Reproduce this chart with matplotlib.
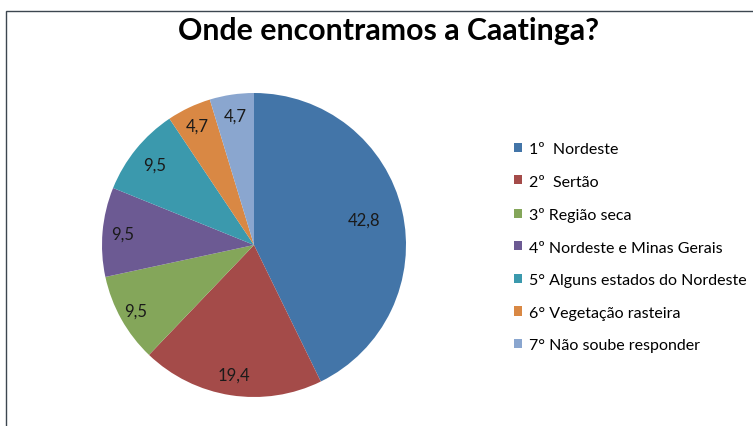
import matplotlib
matplotlib.use("Agg")
import matplotlib.pyplot as plt
from matplotlib.patches import Rectangle
import numpy as np

title = "Onde encontramos a Caatinga?"
categories = ["1º  Nordeste", "2º  Sertão", "3º Região seca", "4º Nordeste e Minas Gerais",
              "5° Alguns estados do Nordeste", "6° Vegetação rasteira", "7° Não soube responder"]
values = [42.8, 19.4, 9.5, 9.5, 9.5, 4.7, 4.7]
value_labels = ["42,8", "19,4", "9,5", "9,5", "9,5", "4,7", "4,7"]
colors = ["#4375A8", "#A44B49", "#84A65A", "#6C5A93", "#3B99AD", "#D98844", "#8AA6CF"]
label_radius = [0.74, 0.86, 0.89, 0.87, 0.84, 0.87, 0.86]

plt.rcParams['font.family'] = ['Lato', 'DejaVu Sans']

W, H = 753, 427
fig = plt.figure(figsize=(W / 100, H / 100), dpi=100)

# frame
fig.patches.append(Rectangle((6 / W, -0.05), 1.2, 1 - 12 / H + 0.05, transform=fig.transFigure,
                             fill=False, edgecolor="#3c4650", linewidth=1.0))

fig.text(388 / W, 1 - 31 / H, title, ha="center", va="center", fontsize=21.8, fontweight="bold")

cx, cy, r = 254, 246, 152
ax = fig.add_axes([(cx - r) / W, (H - cy - r) / H, 2 * r / W, 2 * r / H])
wedges, _ = ax.pie(values, colors=colors, startangle=90, counterclock=False, radius=1,
                   wedgeprops=dict(linewidth=0))
ax.set_xlim(-1, 1)
ax.set_ylim(-1, 1)
ax.axis("off")

for w, lab, lr in zip(wedges, value_labels, label_radius):
    ang = np.deg2rad((w.theta1 + w.theta2) / 2)
    ax.text(lr * np.cos(ang), lr * np.sin(ang), lab, ha="center", va="center", fontsize=12,
            color="#1a1a1a")

leg = fig.legend(wedges, categories, loc="upper left", bbox_to_anchor=(514 / W, 1 - 143 / H),
                 frameon=False, fontsize=11.5, borderpad=0, handlelength=0.5, handleheight=0.5,
                 handletextpad=0.45, labelspacing=1.16, borderaxespad=0)

fig.savefig("out.png", dpi=100)
